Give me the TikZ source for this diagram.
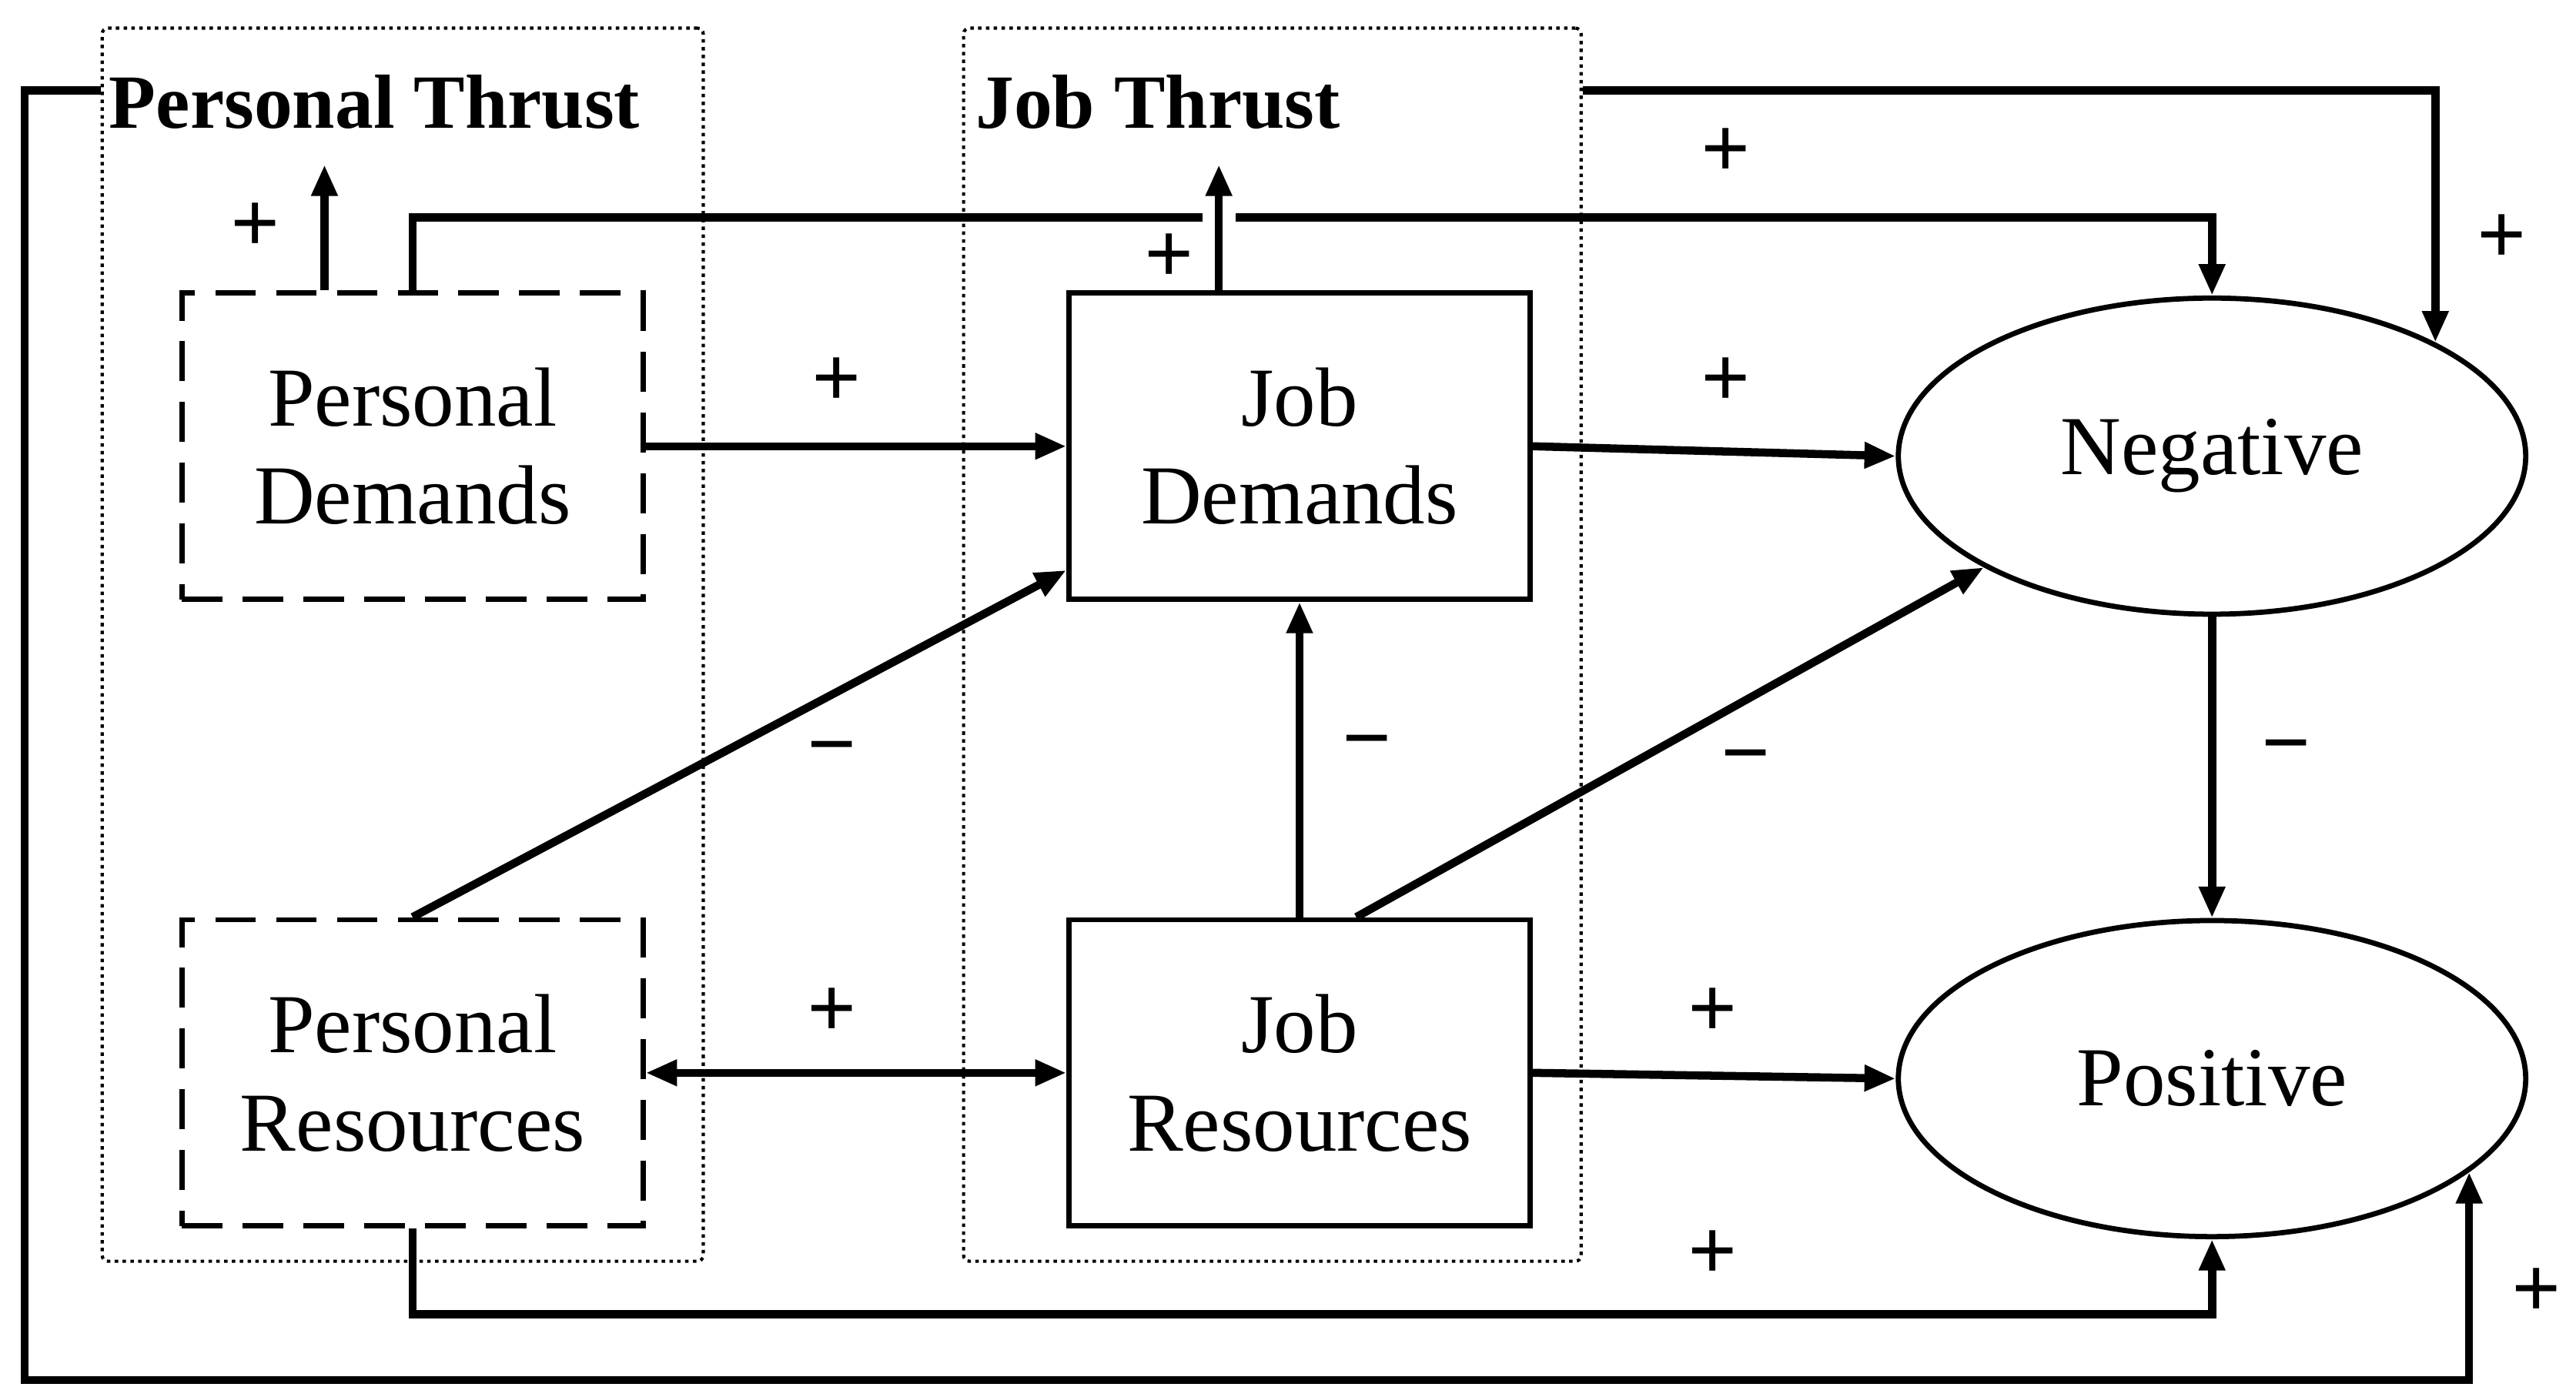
\documentclass[tikz,border=0pt]{standalone}
\usepackage{fontspec}
\setmainfont{Liberation Serif}
\usetikzlibrary{arrows.meta,shapes.geometric,calc}

\begin{document}
\begin{tikzpicture}[x=0.02cm,y=-0.02cm,
        flow/.style={-{Triangle[length=3.8mm,width=3mm]},line width=2.8pt},
        both/.style={{Triangle[length=3.8mm,width=3mm]}-{Triangle[length=3.8mm,width=3mm]},line width=2.8pt},
        jobbox/.style={draw,line width=1.8pt,minimum width=5.6cm,minimum height=3.72cm,align=center,font=\fontsize{29}{34}\selectfont},
        perbox/.style={jobbox,dash pattern=on 14pt off 7pt},
        outcome/.style={ellipse,draw,line width=1.8pt,minimum width=7.62cm,minimum height=3.84cm,font=\fontsize{29}{34}\selectfont},
        thrust/.style={draw,line width=1.1pt,dash pattern=on 1.2pt off 1.5pt,rounded corners=2pt},
        title/.style={anchor=base west,inner sep=0pt,font=\bfseries\fontsize{26.5}{30}\selectfont},
        sign/.style={inner sep=0pt,font=\bfseries\fontsize{30}{34}\selectfont},
    ]
    \useasboundingbox (0,0) rectangle (1564,848);
    % thrust frames
    \node[thrust,minimum width=7.3cm,minimum height=14.98cm] (pt) at (244.5,391.5) {};
    \node[thrust,minimum width=7.5cm,minimum height=14.98cm] (jt) at (772.5,391.5) {};
    \node[title] (pttitle) at (66,78) {Personal Thrust};
    \node[title] (jttitle) at (592,78) {Job Thrust};
    % demands and resources
    \node[perbox] (pd) at (250.5,271) {Personal\\Demands};
    \node[perbox] (pr) at (250.5,651.5) {Personal\\Resources};
    \node[jobbox] (jd) at (789,271) {Job\\Demands};
    \node[jobbox] (jr) at (789,651.5) {Job\\Resources};
    % outcomes
    \node[outcome] (neg) at (1343,277) {Negative};
    \node[outcome] (pos) at (1343,655) {Positive};
    % rows for the bent lines
    \coordinate (outer) at (15,838);
    \coordinate (jtrow) at (0,55);
    \coordinate (toprow) at (0,132);
    \coordinate (botrow) at (0,798);
    \coordinate (ptarrow) at (197,100);
    \coordinate (jtarrow) at (740,100);
    % loops
    \draw[flow] (pt.west |- jtrow) -| (outer) -| (pos.-20.8);
    \draw[flow] (jt.east |- jtrow) -| (neg.27.1);
    \draw[flow] (pd.north) |- (toprow -| neg.north) -- (neg.north);
    \draw[flow] (pr.south) |- (botrow -| pos.south) -- (pos.south);
    % thrust arrows
    \draw[white,line width=0.4cm] ($(jtarrow |- toprow)+(0,-5)$) -- ($(jtarrow |- toprow)+(0,5)$);
    \draw[flow] (jtarrow |- jd.north) -- (jtarrow);
    \draw[flow] (ptarrow |- pd.north) -- (ptarrow);
    % straight links
    \draw[flow] (pd.east) -- (jd.west);
    \draw[flow] (jd.east) -- (neg.west);
    \draw[flow] (pr.north) -- (jd.208);
    \draw[flow] (jr.north) -- (jd.south);
    \draw[flow] (jr.70.6) -- (neg.206.6);
    \draw[flow] (neg.south) -- (pos.north);
    \draw[both] (pr.east) -- (jr.west);
    \draw[flow] (jr.east) -- (pos.west);
    % signs
    \node[sign] (s1) at (155,138) {+};
    \node[sign] (s2) at (710,157) {+};
    \node[sign] (s3) at (1048,93) {+};
    \node[sign] (s4) at (1519,145) {+};
    \node[sign] (s5) at (508,232) {+};
    \node[sign] (s6) at (1048,232) {+};
    \node[sign] (s7) at (505,460) {−};
    \node[sign] (s8) at (830,456) {−};
    \node[sign] (s9) at (1060,465) {−};
    \node[sign] (s10) at (1388,459) {−};
    \node[sign] (s11) at (505,615) {+};
    \node[sign] (s12) at (1040,615) {+};
    \node[sign] (s13) at (1040,762) {+};
    \node[sign] (s14) at (1540,785) {+};
\end{tikzpicture}
\end{document}
